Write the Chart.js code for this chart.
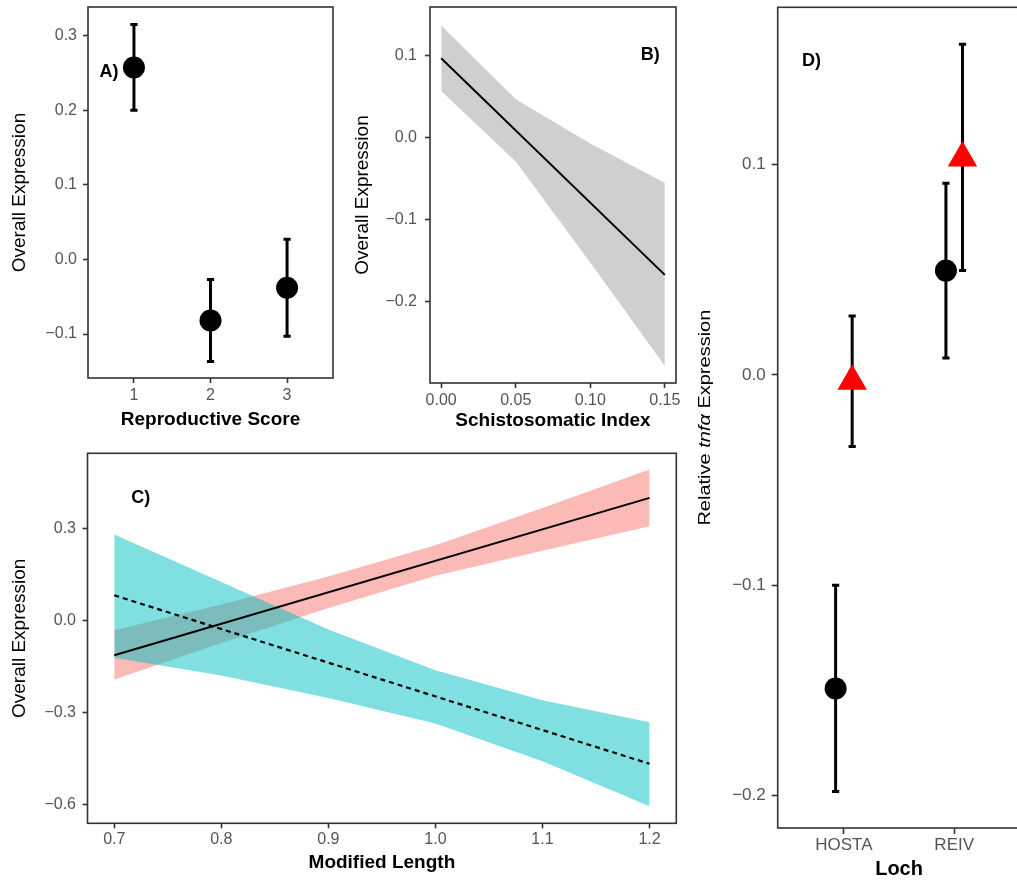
<!DOCTYPE html>
<html><head><meta charset="utf-8">
<script src="https://cdn.jsdelivr.net/npm/chart.js@4.4.1/dist/chart.umd.min.js"></script>
<style>
html,body{margin:0;padding:0;background:#fff;overflow:hidden;width:1017px;height:881px;position:relative;}
canvas{position:absolute;}
</style></head><body>
<canvas id="cA" width="340" height="440" style="left:0;top:0"></canvas>
<canvas id="cB" width="360" height="440" style="left:340px;top:0"></canvas>
<canvas id="cC" width="700" height="441" style="left:0;top:440px"></canvas>
<canvas id="cD" width="340" height="881" style="left:690px;top:0"></canvas>
<script>
// ---------- Panel A: Reproductive Score ----------
const repScores = [1, 2, 3];
const repMean = [0.2575, -0.082, -0.038];
const repLow  = [0.200, -0.137, -0.103];
const repHigh = [0.315, -0.027, 0.027];
const aXTicks = [1, 2, 3];
const aYTicks = [-0.1, 0, 0.1, 0.2, 0.3];

// ---------- Panel B: Schistosomatic Index ----------
const schX = [0, 0.05, 0.10, 0.15];
const schUpper = [0.137, 0.047, -0.007, -0.055];
const schLower = [0.057, -0.029, -0.152, -0.278];
const schFitX = [0, 0.15];
const schFit = [0.097, -0.167];
const bXTicks = [0, 0.05, 0.10, 0.15];
const bYTicks = [-0.2, -0.1, 0, 0.1];

// ---------- Panel C: Modified Length ----------
const lenX = [0.7, 0.8, 0.9, 1.0, 1.1, 1.2];
const redUpper  = [-0.032, 0.052, 0.143, 0.245, 0.366, 0.491];
const redLower  = [-0.192, -0.073, 0.041, 0.146, 0.227, 0.307];
const cyanUpper = [0.280, 0.125, -0.029, -0.162, -0.259, -0.331];
const cyanLower = [-0.121, -0.179, -0.252, -0.335, -0.458, -0.604];
const fitLenX = [0.7, 1.2];
const redFit  = [-0.113, 0.399];
const cyanFit = [0.082, -0.466];
const cXTicks = [0.7, 0.8, 0.9, 1.0, 1.1, 1.2];
const cYTicks = [-0.6, -0.3, 0, 0.3];

// ---------- Panel D: Loch ----------
const lochs = ['HOSTA', 'REIV'];
const circMean = [-0.149, 0.0495];
const circLow  = [-0.198, 0.008];
const circHigh = [-0.100, 0.091];
const triMean  = [-0.003, 0.103];
const triLow   = [-0.034, 0.0495];
const triHigh  = [0.028, 0.157];
const dXTicks = [1, 2];
const dYTicks = [-0.2, -0.1, 0, 0.1];

const FONT = "'Liberation Sans', Arial, Helvetica, sans-serif";
Chart.defaults.font.family = FONT;
Chart.defaults.animation = false;
Chart.defaults.events = [];
Chart.defaults.plugins.legend.display = false;
Chart.defaults.plugins.tooltip.enabled = false;

const fmt = d => v => (Math.abs(v) < 1e-9 ? (0).toFixed(d) : Number(v).toFixed(d)).replace('-', '\u2212');

function axis(o) {
  const horiz = !!o.horiz;
  return {
    type: 'linear', position: horiz ? 'bottom' : 'left', min: o.min, max: o.max, bounds: 'data',
    afterBuildTicks: s => { s.ticks = o.ticks.map(v => ({value: v})); },
    afterFit: s => {
      if (horiz) { s.height = o.size; s.paddingLeft = 0; s.paddingRight = 0; }
      else { s.width = o.size; s.paddingTop = 0; s.paddingBottom = 0; }
    },
    grid: {display: true, drawOnChartArea: false, drawTicks: true, tickLength: o.tl || 5,
           tickColor: '#333333', tickWidth: 1.6, color: '#333333'},
    border: {display: false},
    ticks: {color: '#555555', font: {size: o.fs || 16}, padding: o.pad, callback: o.fmt,
            autoSkip: false, maxRotation: 0, minRotation: 0},
    title: o.title ? {display: true, text: o.title, color: '#000000',
            font: {size: o.tfs || 19, weight: horiz ? 'bold' : 'normal'},
            padding: horiz ? {top: 0, bottom: o.tpad} : {top: o.tpad, bottom: 0}} : {display: false}
  };
}

const boxPlugin = {
  id: 'box',
  afterDraw(chart) {
    const a = chart.chartArea, c = chart.ctx;
    c.save(); c.strokeStyle = '#333333'; c.lineWidth = 1.6;
    c.strokeRect(a.left, a.top, a.right - a.left, a.bottom - a.top);
    c.restore();
  }
};

const errorBarPlugin = {
  id: 'errbars',
  beforeDatasetsDraw(chart) {
    const c = chart.ctx, ys = chart.scales.y;
    chart.data.datasets.forEach((ds, i) => {
      if (!ds.errLow) return;
      const meta = chart.getDatasetMeta(i);
      c.save(); c.strokeStyle = '#000000'; c.lineWidth = 3; c.lineCap = 'butt';
      meta.data.forEach((pt, j) => {
        const x = pt.x, y1 = ys.getPixelForValue(ds.errLow[j]), y2 = ys.getPixelForValue(ds.errHigh[j]);
        c.beginPath();
        c.moveTo(x, y1); c.lineTo(x, y2);
        c.moveTo(x - 3.6, y1); c.lineTo(x + 3.6, y1);
        c.moveTo(x - 3.6, y2); c.lineTo(x + 3.6, y2);
        c.stroke();
      });
      c.restore();
    });
  }
};

function panelLabel(text, xv, yv, size) {
  return {
    id: 'panelLabel',
    afterDatasetsDraw(chart) {
      const c = chart.ctx; c.save();
      c.font = 'bold ' + size + 'px ' + FONT;
      c.fillStyle = '#000000'; c.textAlign = 'center'; c.textBaseline = 'middle';
      c.fillText(text, chart.scales.x.getPixelForValue(xv), chart.scales.y.getPixelForValue(yv));
      c.restore();
    }
  };
}

const pts = (xs, ys) => xs.map((x, i) => ({x: x, y: ys[i]}));

// ---------- Chart A ----------
new Chart(document.getElementById('cA'), {
  type: 'scatter',
  data: {datasets: [{
    data: pts(repScores, repMean), pointRadius: 11, backgroundColor: '#000000',
    borderColor: '#000000', borderWidth: 0, pointBorderWidth: 0,
    errLow: repLow, errHigh: repHigh
  }]},
  options: {
    responsive: false,
    layout: {autoPadding: false, padding: {left: 0, right: 7, top: 7, bottom: 0}},
    scales: {
      x: axis({horiz: true, min: 0.4, max: 3.6, ticks: aXTicks, size: 62, pad: 2.6, fmt: v => String(v),
               title: 'Reproductive Score', tpad: 9}),
      y: axis({min: -0.159, max: 0.3385, ticks: aYTicks, size: 88, pad: 6, fmt: fmt(1),
               title: 'Overall Expression', tpad: 8})
    }
  },
  plugins: [errorBarPlugin, boxPlugin, panelLabel('A)', 0.675, 0.2507, 18)]
});

// ---------- Chart B ----------
new Chart(document.getElementById('cB'), {
  type: 'line',
  data: {datasets: [
    {data: pts(schX, schUpper), borderWidth: 0, pointRadius: 0, fill: false, order: 2, borderColor: 'rgba(0,0,0,0)'},
    {data: pts(schX, schLower), borderWidth: 0, pointRadius: 0, fill: '-1', order: 2,
     borderColor: 'rgba(0,0,0,0)', backgroundColor: '#cfcfcf'},
    {data: pts(schFitX, schFit), borderWidth: 2, pointRadius: 0, fill: false, order: 0, borderColor: '#000000'}
  ]},
  options: {
    responsive: false,
    elements: {line: {tension: 0}},
    layout: {autoPadding: false, padding: {left: 0, right: 24, top: 7, bottom: 0}},
    scales: {
      x: axis({horiz: true, min: -0.0075, max: 0.1575, ticks: bXTicks, size: 57, pad: 3.3, fmt: fmt(2),
               title: 'Schistosomatic Index', tpad: 8}),
      y: axis({min: -0.2988, max: 0.1594, ticks: bYTicks, size: 90, pad: 8, fmt: fmt(1),
               title: 'Overall Expression', tpad: 11})
    }
  },
  plugins: [boxPlugin, panelLabel('B)', 0.1402, 0.101, 18)]
});

// ---------- Chart C ----------
new Chart(document.getElementById('cC'), {
  type: 'line',
  data: {datasets: [
    {data: pts(lenX, redUpper), borderWidth: 0, pointRadius: 0, fill: false, order: 3, borderColor: 'rgba(0,0,0,0)'},
    {data: pts(lenX, redLower), borderWidth: 0, pointRadius: 0, fill: '-1', order: 3,
     borderColor: 'rgba(0,0,0,0)', backgroundColor: 'rgba(248,118,109,0.5)'},
    {data: pts(lenX, cyanUpper), borderWidth: 0, pointRadius: 0, fill: false, order: 2, borderColor: 'rgba(0,0,0,0)'},
    {data: pts(lenX, cyanLower), borderWidth: 0, pointRadius: 0, fill: '-1', order: 2,
     borderColor: 'rgba(0,0,0,0)', backgroundColor: 'rgba(0,191,196,0.5)'},
    {data: pts(fitLenX, redFit), borderWidth: 2, pointRadius: 0, fill: false, order: 0, borderColor: '#000000'},
    {data: pts(fitLenX, cyanFit), borderWidth: 2.2, pointRadius: 0, fill: false, order: 0, borderColor: '#000000',
     borderDash: [5, 4]}
  ]},
  options: {
    responsive: false,
    elements: {line: {tension: 0}},
    layout: {autoPadding: false, padding: {left: 0, right: 23.7, top: 13.3, bottom: 0}},
    scales: {
      x: axis({horiz: true, min: 0.675, max: 1.225, ticks: cXTicks, size: 57.7, pad: 1.3, fmt: fmt(1),
               title: 'Modified Length', tpad: 6.4}),
      y: axis({min: -0.6596, max: 0.544, ticks: cYTicks, size: 87.5, pad: 6.5, fmt: fmt(1),
               title: 'Overall Expression', tpad: 8})
    }
  },
  plugins: [boxPlugin, panelLabel('C)', 0.7247, 0.399, 18)]
});

// ---------- Chart D ----------
const dodge = 0.075;
const dTitlePlugin = {
  id: 'dYTitle',
  afterDraw(chart) {
    const c = chart.ctx, a = chart.chartArea;
    const parts = [['Relative ', 'normal'], ['tnf\u03B1', 'italic'], [' Expression', 'normal']];
    c.save();
    c.translate(15.5, (a.top + a.bottom) / 2);
    c.rotate(-Math.PI / 2);
    c.scale(1.25, 1);
    c.fillStyle = '#000000'; c.textBaseline = 'middle'; c.textAlign = 'left';
    let total = 0;
    const widths = parts.map(p => { c.font = p[1] + ' 16px ' + FONT; const w = c.measureText(p[0]).width; total += w; return w; });
    let x = -total / 2;
    parts.forEach((p, i) => { c.font = p[1] + ' 16px ' + FONT; c.fillText(p[0], x, 0); x += widths[i]; });
    c.restore();
  }
};
new Chart(document.getElementById('cD'), {
  type: 'scatter',
  data: {datasets: [
    {data: lochs.map((l, i) => ({x: dXTicks[i] - dodge, y: circMean[i]})), pointStyle: 'circle', pointRadius: 11,
     backgroundColor: '#000000', borderColor: '#000000', borderWidth: 0, pointBorderWidth: 0,
     errLow: circLow, errHigh: circHigh},
    {data: lochs.map((l, i) => ({x: dXTicks[i] + dodge, y: triMean[i]})), pointStyle: 'triangle', pointRadius: 17,
     backgroundColor: '#ff0000', borderColor: '#ff0000', borderWidth: 0, pointBorderWidth: 0,
     errLow: triLow, errHigh: triHigh}
  ]},
  options: {
    responsive: false,
    layout: {autoPadding: false, padding: {left: 0, right: 9.6, top: 7.3, bottom: 0}},
    scales: {
      x: axis({horiz: true, min: 0.4, max: 2.6, ticks: dXTicks, size: 53, pad: 1.4, tl: 6, fs: 17,
               fmt: v => lochs[Math.round(v) - 1], title: 'Loch', tfs: 20, tpad: 0}),
      y: axis({min: -0.2153, max: 0.1746, ticks: dYTicks, size: 87.7, pad: 6, tl: 6, fs: 17, fmt: fmt(1)})
    }
  },
  plugins: [errorBarPlugin, boxPlugin, dTitlePlugin, panelLabel('D)', 0.706, 0.149, 18)]
});
</script>
</body></html>
